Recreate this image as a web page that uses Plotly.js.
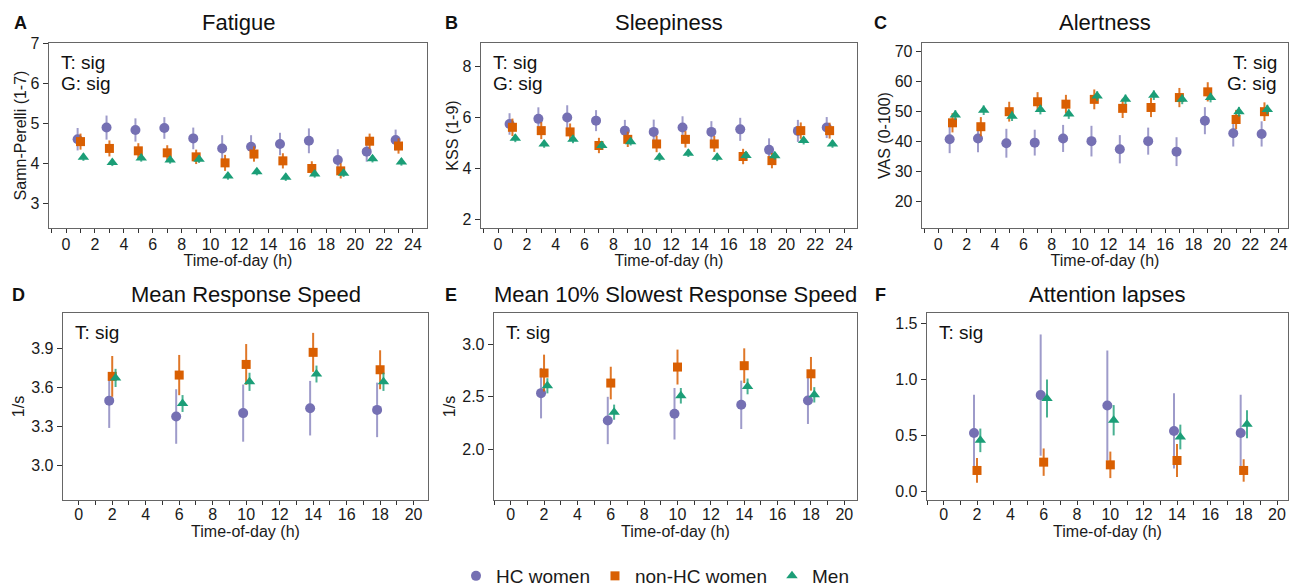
<!DOCTYPE html>
<html>
<head>
<meta charset="utf-8">
<script src="https://cdn.plot.ly/plotly-3.0.1.min.js"></script>
<style>html,body{margin:0;padding:0;background:#fff;}#chart{width:1293px;height:588px;}</style>
</head>
<body>
<div id="chart"></div>
<script>
// ---------- DATA ----------
const groups = ["HC women", "non-HC women", "Men"];
const hoursTop = [1, 3, 5, 7, 9, 11, 13, 15, 17, 19, 21, 23];
const hoursBottom = [2, 6, 10, 14, 18];

// A: Fatigue (Samn-Perelli)
const fatigueHC = [4.60, 4.89, 4.83, 4.88, 4.62, 4.37, 4.41, 4.48, 4.56, 4.08, 4.29, 4.58];
const fatigueHCErr = [0.28, 0.30, 0.29, 0.27, 0.27, 0.33, 0.29, 0.28, 0.31, 0.27, 0.25, 0.26];
const fatigueNonHC = [4.54, 4.37, 4.31, 4.26, 4.16, 4.01, 4.23, 4.06, 3.87, 3.81, 4.55, 4.43];
const fatigueNonHCErr = [0.20, 0.20, 0.19, 0.19, 0.18, 0.20, 0.19, 0.19, 0.18, 0.19, 0.19, 0.19];
const fatigueMen = [4.15, 4.02, 4.13, 4.08, 4.10, 3.68, 3.79, 3.65, 3.73, 3.75, 4.11, 4.03];
const fatigueMenErr = [0.09, 0.09, 0.09, 0.09, 0.09, 0.09, 0.09, 0.09, 0.09, 0.09, 0.09, 0.09];

// B: Sleepiness (KSS)
const kssHC = [5.74, 5.94, 5.99, 5.87, 5.48, 5.43, 5.60, 5.43, 5.53, 4.73, 5.47, 5.60];
const kssHCErr = [0.42, 0.45, 0.48, 0.41, 0.42, 0.48, 0.44, 0.42, 0.45, 0.45, 0.43, 0.41];
const kssNonHC = [5.61, 5.48, 5.43, 4.90, 5.14, 4.96, 5.14, 4.96, 4.47, 4.31, 5.48, 5.48];
const kssNonHCErr = [0.34, 0.33, 0.33, 0.30, 0.30, 0.32, 0.32, 0.31, 0.30, 0.30, 0.32, 0.31];
const kssMen = [5.18, 4.96, 5.14, 4.90, 5.05, 4.44, 4.60, 4.44, 4.51, 4.50, 5.09, 4.96];
const kssMenErr = [0.15, 0.15, 0.15, 0.15, 0.15, 0.15, 0.15, 0.15, 0.15, 0.15, 0.15, 0.15];

// C: Alertness (VAS)
const vasHC = [40.7, 41.0, 39.4, 39.6, 41.0, 40.1, 37.4, 40.1, 36.6, 46.9, 42.7, 42.5];
const vasHCErr = [4.6, 4.6, 4.8, 4.3, 4.5, 5.1, 4.7, 4.5, 4.8, 4.5, 4.4, 4.2];
const vasNonHC = [46.2, 44.9, 49.9, 53.2, 52.4, 54.0, 51.0, 51.3, 54.6, 56.5, 47.3, 49.9];
const vasNonHCErr = [3.2, 3.2, 3.3, 3.2, 3.1, 3.3, 3.2, 3.2, 3.2, 3.2, 3.2, 3.1];
const vasMen = [48.8, 50.4, 48.4, 50.6, 49.1, 55.1, 54.0, 55.4, 54.0, 54.6, 49.9, 50.6];
const vasMenErr = [1.6, 1.6, 1.6, 1.6, 1.6, 1.6, 1.6, 1.6, 1.6, 1.6, 1.6, 1.6];

// D: Mean response speed (1/s)
const speedHC = [3.50, 3.378, 3.404, 3.442, 3.429];
const speedHCErr = [0.21, 0.21, 0.22, 0.21, 0.21];
const speedNonHC = [3.687, 3.697, 3.779, 3.872, 3.738];
const speedNonHCErr = [0.157, 0.155, 0.157, 0.150, 0.150];
const speedMen = [3.675, 3.478, 3.645, 3.705, 3.645];
const speedMenErr = [0.07, 0.065, 0.07, 0.065, 0.07];

// E: Mean 10% slowest response speed (1/s)
const slowHC = [2.533, 2.273, 2.337, 2.422, 2.463];
const slowHCErr = [0.24, 0.225, 0.245, 0.23, 0.223];
const slowNonHC = [2.724, 2.629, 2.781, 2.794, 2.717];
const slowNonHCErr = [0.175, 0.155, 0.166, 0.165, 0.16];
const slowMen = [2.603, 2.352, 2.508, 2.597, 2.517];
const slowMenErr = [0.072, 0.072, 0.074, 0.075, 0.073];

// F: Attention lapses
const lapsesHC = [0.522, 0.859, 0.766, 0.540, 0.522];
const lapsesHCErr = [0.34, 0.54, 0.49, 0.335, 0.34];
const lapsesNonHC = [0.188, 0.262, 0.238, 0.277, 0.188];
const lapsesNonHCErr = [0.11, 0.122, 0.118, 0.147, 0.10];
const lapsesMen = [0.456, 0.829, 0.635, 0.486, 0.600];
const lapsesMenErr = [0.105, 0.17, 0.135, 0.11, 0.125];

// tick labels
const xTicksTop = [0, 2, 4, 6, 8, 10, 12, 14, 16, 18, 20, 22, 24];
const xTicksBottom = [0, 2, 4, 6, 8, 10, 12, 14, 16, 18, 20];
const yTicksA = [3, 4, 5, 6, 7];
const yTicksB = [2, 4, 6, 8];
const yTicksC = [20, 30, 40, 50, 60, 70];
const yTicksD = [3.0, 3.3, 3.6, 3.9];
const yTicksE = [2.0, 2.5, 3.0];
const yTicksF = [0.0, 0.5, 1.0, 1.5];

// ---------- STYLE ----------
const colors = ["#7570B3", "#D95F02", "#1B9E77"];
const errColors = ["rgba(117,112,179,0.7)", "rgba(217,95,2,0.85)", "rgba(27,158,119,0.8)"];
const symbols = ["circle", "square", "triangle-up"];
const sizes = [10, 9, 10];
const FONT = "Liberation Sans, Arial, sans-serif";
const TXT = "#1a1a1a";

const panels = [
  {x: hoursTop, series: [[fatigueHC, fatigueHCErr], [fatigueNonHC, fatigueNonHCErr], [fatigueMen, fatigueMenErr]], off: [-0.2, 0, 0.2]},
  {x: hoursTop, series: [[kssHC, kssHCErr], [kssNonHC, kssNonHCErr], [kssMen, kssMenErr]], off: [-0.2, 0, 0.2]},
  {x: hoursTop, series: [[vasHC, vasHCErr], [vasNonHC, vasNonHCErr], [vasMen, vasMenErr]], off: [-0.2, 0, 0.2]},
  {x: hoursBottom, series: [[speedHC, speedHCErr], [speedNonHC, speedNonHCErr], [speedMen, speedMenErr]], off: [-0.18, 0, 0.2]},
  {x: hoursBottom, series: [[slowHC, slowHCErr], [slowNonHC, slowNonHCErr], [slowMen, slowMenErr]], off: [-0.18, 0, 0.2]},
  {x: hoursBottom, series: [[lapsesHC, lapsesHCErr], [lapsesNonHC, lapsesNonHCErr], [lapsesMen, lapsesMenErr]], off: [-0.18, 0, 0.2]}
];

const W = 1293, H = 588;
const boxes = [
  {l: 49, r: 427, t: 43, b: 228},
  {l: 481, r: 857, t: 43, b: 228},
  {l: 922, r: 1288, t: 43, b: 228},
  {l: 63, r: 428, t: 313, b: 500},
  {l: 494, r: 857, t: 313, b: 500},
  {l: 927, r: 1288, t: 313, b: 500}
];
const xRanges = [[-1.18, 24.97], [-1.18, 24.9], [-1.15, 24.66], [-0.94, 20.86], [-1.0, 20.76], [-1.0, 20.66]];
const yRanges = [[2.385, 7.0], [1.68, 8.9], [11.2, 72.75], [2.735, 4.175], [1.517, 3.295], [-0.075, 1.59]];
const yTicks = [yTicksA, yTicksB, yTicksC, yTicksD, yTicksE, yTicksF];
const yFormats = ["d", "d", "d", ".1f", ".1f", ".1f"];
const yTitles = ["Samn-Perelli (1-7)", "KSS (1-9)", "VAS (0-100)", "1/s", "1/s", ""];
const yStandoff = [0, 0, 0, 2, 2, 2];
const xStandoff = [2, 2, 2, 4, 4, 4];
const titles = ["Fatigue", "Sleepiness", "Alertness", "Mean Response Speed", "Mean 10% Slowest Response Speed", "Attention lapses"];
const letters = ["A", "B", "C", "D", "E", "F"];
const letterPos = [[20, 23], [451, 23], [880, 23], [18, 295], [451, 295], [880, 295]];
const sigTexts = [["T: sig", "G: sig"], ["T: sig", "G: sig"], ["T: sig", "G: sig"], ["T: sig"], ["T: sig"], ["T: sig"]];

const traces = [];
const layout = {
  width: W, height: H,
  margin: {l: 0, r: 0, t: 0, b: 0, autoexpand: false},
  paper_bgcolor: "#fff", plot_bgcolor: "#fff",
  font: {family: FONT, color: TXT, size: 16},
  showlegend: true,
  legend: {orientation: "h", x: 655 / W, xanchor: "center", y: 1 - 576 / H, yanchor: "middle",
           font: {family: FONT, size: 19, color: TXT}, itemwidth: 30, tracegroupgap: 0},
  annotations: [],
  shapes: []
};

panels.forEach((p, i) => {
  const ax = i === 0 ? "" : String(i + 1);
  p.series.forEach((s, g) => {
    traces.push({
      type: "scatter", mode: "markers",
      x: p.x.map(v => v + p.off[g]),
      y: s[0],
      error_y: {type: "data", array: s[1], visible: true, thickness: 2, width: 0, color: errColors[g]},
      marker: {color: colors[g], symbol: symbols[g], size: sizes[g]},
      name: groups[g], legendgroup: groups[g], showlegend: i === 0,
      xaxis: "x" + ax, yaxis: "y" + ax,
      hoverinfo: "x+y"
    });
  });
  const b = boxes[i];
  const top = i < 3;
  layout["xaxis" + ax] = {
    domain: [b.l / W, b.r / W], range: xRanges[i], anchor: "y" + ax,
    tickvals: top ? xTicksTop : xTicksBottom, ticks: "outside", ticklen: 4, tickwidth: 1, tickcolor: "#333",
    ticklabelstandoff: top ? -3 : -5,
    minor: {dtick: 1, tick0: 0, ticks: "outside", ticklen: 4, tickcolor: "#333", showgrid: false},
    showgrid: false, zeroline: false, showline: true, linecolor: "#666", linewidth: 1.3, mirror: true,
    tickfont: {family: FONT, size: 16, color: TXT}, automargin: false,
    title: {text: "Time-of-day (h)", font: {family: FONT, size: 16, color: TXT}, standoff: xStandoff[i]}
  };
  layout["yaxis" + ax] = {
    domain: [1 - b.b / H, 1 - b.t / H], range: yRanges[i], anchor: "x" + ax,
    tickvals: yTicks[i], tickformat: yFormats[i], ticks: "outside", ticklen: 5, tickwidth: 1, tickcolor: "#333",
    showgrid: false, zeroline: false, showline: true, linecolor: "#666", linewidth: 1.3, mirror: true,
    tickfont: {family: FONT, size: 16, color: TXT}, automargin: false,
    title: {text: yTitles[i], font: {family: FONT, size: 16, color: TXT}, standoff: yStandoff[i]}
  };
  layout.annotations.push({
    text: titles[i], xref: "paper", yref: "paper", x: (b.l + b.r) / 2 / W, y: 1 - (top ? 22 : 294) / H,
    xanchor: "center", yanchor: "middle", showarrow: false, font: {family: FONT, size: 22, color: "#111"}
  });
  layout.annotations.push({
    text: "<b>" + letters[i] + "</b>", xref: "paper", yref: "paper", x: letterPos[i][0] / W, y: 1 - letterPos[i][1] / H,
    xanchor: "center", yanchor: "middle", showarrow: false, font: {family: FONT, size: 18, color: "#111"}
  });
  const right = i === 2;
  sigTexts[i].forEach((t, k) => {
    layout.annotations.push({
      text: t, xref: "paper", yref: "paper",
      x: right ? (b.r - 9) / W : (b.l + 9.5) / W, y: 1 - (b.t + 19.5 + 21.5 * k) / H,
      xanchor: right ? "right" : "left", yanchor: "middle",
      showarrow: false, font: {family: FONT, size: 19, color: "#111"}
    });
  });
});

Plotly.newPlot("chart", traces, layout, {displayModeBar: false, staticPlot: true});
</script>
</body>
</html>
